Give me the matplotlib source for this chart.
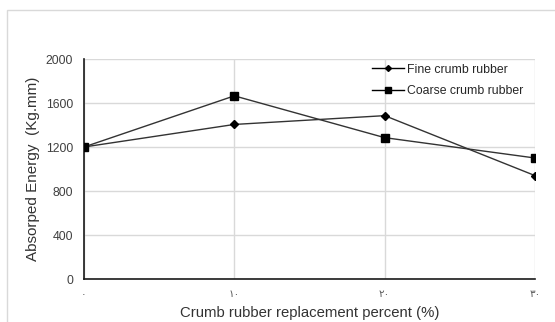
import matplotlib
matplotlib.use("Agg")
import matplotlib.pyplot as plt
from matplotlib.patches import Rectangle
from matplotlib.lines import Line2D

# Crumb rubber replacement percent and absorbed energy values
replacement = [0, 10, 20, 30]
x_tick_labels = ["٠", "١٠", "٢٠", "٣٠"]
fine_energy = [1200, 1405, 1485, 940]
coarse_energy = [1200, 1665, 1285, 1100]
y_ticks = [0, 400, 800, 1200, 1600, 2000]

plt.rcParams['font.family'] = ['Liberation Sans', 'DejaVu Sans']

fig = plt.figure(figsize=(5.55, 3.22), dpi=100)
fig.patch.set_facecolor('white')

# light outer frame
fig.patches.append(Rectangle((7 / 555, -0.05), 1.1, 1 - 10 / 322 + 0.05,
                             transform=fig.transFigure, fill=False,
                             edgecolor='#d9d9d9', linewidth=1.0))

ax = fig.add_axes([84 / 555, 1 - 279 / 322, (535 - 84) / 555, (279 - 59) / 322])

line_color = '#333333'
ax.plot(replacement, fine_energy, color=line_color, linewidth=1.0,
        marker='D', markersize=3.8, markerfacecolor='black', markeredgecolor='black',
        zorder=3)
ax.plot(replacement, coarse_energy, color=line_color, linewidth=1.0,
        marker='s', markersize=5.5, markerfacecolor='black', markeredgecolor='black',
        zorder=3)

ax.set_xlim(0, 30)
ax.set_ylim(0, 2000)
ax.set_xticks(replacement)
ax.set_xticklabels(x_tick_labels, fontsize=7.5, color='#595959', family=['DejaVu Sans'])
ax.set_yticks(y_ticks)
ax.set_yticklabels([str(v) for v in y_ticks], fontsize=8.8, color='#404040')
ax.tick_params(axis='both', length=0)
ax.tick_params(axis='x', pad=7)
ax.tick_params(axis='y', pad=8)

ax.grid(True, color='#d9d9d9', linewidth=1.0)
ax.set_axisbelow(True)
for side in ['top', 'right']:
    ax.spines[side].set_visible(False)
for side in ['left', 'bottom']:
    ax.spines[side].set_color('#1a1a1a')
    ax.spines[side].set_linewidth(1.2)

ax.set_ylabel('Absorped Energy  (Kg.mm)', fontsize=11, color='#333333', labelpad=4)
ax.set_xlabel('Crumb rubber replacement percent (%)', fontsize=10.7, color='#333333', labelpad=5)

handles = [
    Line2D([], [], color='black', linewidth=1.0, marker='D', markersize=3,
           markerfacecolor='black'),
    Line2D([], [], color='black', linewidth=1.0, marker='s', markersize=4,
           markerfacecolor='black'),
]
leg = ax.legend(handles, ['Fine crumb rubber', 'Coarse crumb rubber'],
                loc='upper left', bbox_to_anchor=(286 / 451, 0.99), frameon=False,
                fontsize=8.8, handlelength=2.6, handletextpad=0.25, labelspacing=0.75,
                borderaxespad=0.0, borderpad=0.2)
for t in leg.get_texts():
    t.set_color('#262626')

fig.savefig('out.png', dpi=100, facecolor='white')
